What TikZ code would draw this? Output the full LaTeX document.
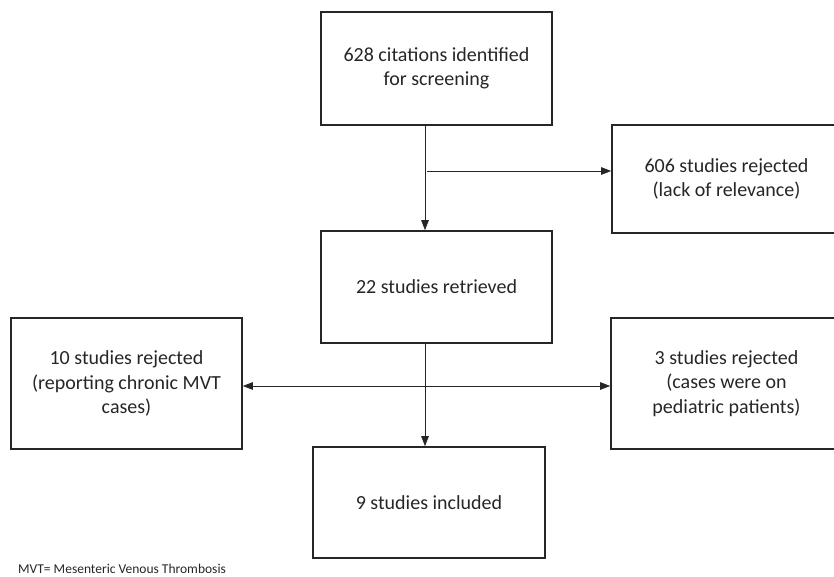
\documentclass[tikz,border=0pt]{standalone}
\usepackage{fontspec}
\setmainfont{Carlito}
\usepackage{tikz}
\usetikzlibrary{arrows.meta, calc, positioning}

\begin{document}
\begin{tikzpicture}[x=1pt, y=-1pt,
  box/.style={draw=black!85, line width=1.6pt, inner sep=0pt, align=center,
    font=\fontsize{20}{24.5}\selectfont, text=black!85},
  arr/.style={draw=black!85, line width=0.8pt, -{Triangle[length=10pt,width=7.5pt]}}]
\useasboundingbox (0,0) rectangle (834,577);
\node[box, minimum width=231pt, minimum height=113pt] (cite) at (436.5,68.5) {628 citations identified\\for screening};
\node[box, minimum width=229pt, minimum height=108pt] (rejA) at (726.5,179) {606 studies rejected\\(lack of relevance)};
\node[box, minimum width=231pt, minimum height=112pt] (retr) at (436.5,287) {22 studies retrieved};
\node[box, minimum width=231pt, minimum height=131pt] (rejB) at (126.5,383.5) {10 studies rejected\\(reporting chronic MVT\\cases)};
\node[box, minimum width=231pt, minimum height=131pt] (rejC) at (726.5,383.5) {3 studies rejected\\(cases were on\\pediatric patients)};
\node[box, minimum width=232pt, minimum height=111pt] (incl) at (429,502.5) {9 studies included};
\node[anchor=base west, inner sep=0pt, font=\fontsize{13.5}{15}\selectfont, text=black!85] (note) at (18,573) {MVT= Mesenteric Venous Thrombosis};
\coordinate (spine) at (425,0);
\coordinate (fork) at (427,171);
\coordinate (split) at (0,386);
\draw[arr] (cite.south -| spine) -- (retr.north -| spine);
\draw[arr] (fork) -- (rejA.west |- fork);
\draw[arr] (retr.south -| spine) -- (incl.north -| spine);
\draw[arr, {Triangle[length=10pt,width=7.5pt]}-{Triangle[length=10pt,width=7.5pt]}] (rejB.east |- split) -- (rejC.west |- split);
\end{tikzpicture}
\end{document}
